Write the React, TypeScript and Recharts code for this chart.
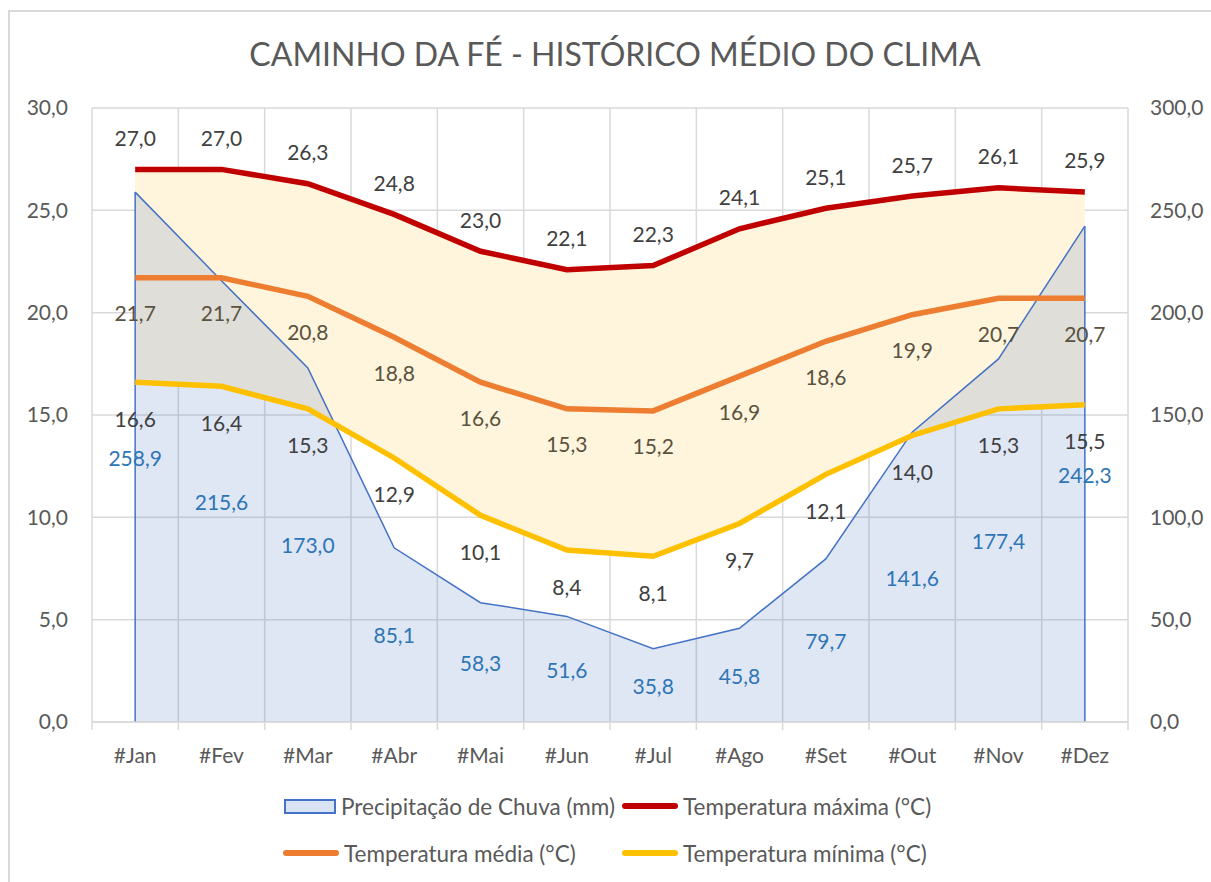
import React from 'react';
import {
  ComposedChart,
  Area,
  Line,
  XAxis,
  YAxis,
  CartesianGrid,
  ReferenceLine,
} from 'recharts';

const months = ['#Jan', '#Fev', '#Mar', '#Abr', '#Mai', '#Jun', '#Jul', '#Ago', '#Set', '#Out', '#Nov', '#Dez'];
const precipitation = [258.9, 215.6, 173.0, 85.1, 58.3, 51.6, 35.8, 45.8, 79.7, 141.6, 177.4, 242.3];
const tempMax = [27.0, 27.0, 26.3, 24.8, 23.0, 22.1, 22.3, 24.1, 25.1, 25.7, 26.1, 25.9];
const tempMed = [21.7, 21.7, 20.8, 18.8, 16.6, 15.3, 15.2, 16.9, 18.6, 19.9, 20.7, 20.7];
const tempMin = [16.6, 16.4, 15.3, 12.9, 10.1, 8.4, 8.1, 9.7, 12.1, 14.0, 15.3, 15.5];
const leftTicks = [0, 5, 10, 15, 20, 25, 30];
const rightTicks = [0, 50, 100, 150, 200, 250, 300];

const FONT = 'Lato, "Open Sans", sans-serif';
const CHART_W = 1203;
const CHART_H = 874;
const LEFT_W = 84;
const RIGHT_W = 83;
const TOP = 100;
const X_AXIS_H = 60;
const BOTTOM_M = 100;
const PLOT_W = CHART_W - LEFT_W - RIGHT_W;
const PLOT_BOTTOM = CHART_H - X_AXIS_H - BOTTOM_M;
const BAND = PLOT_W / months.length;

const data = months.map((m, i) => ({
  month: m,
  precip: precipitation[i],
  max: tempMax[i],
  med: tempMed[i],
  min: tempMin[i],
  band: [tempMin[i], tempMax[i]],
}));

const fmt = (v: number) => v.toFixed(1).replace('.', ',');

function makeLabel(dy: number, color: string) {
  return (props: any) => {
    const { x, y, value, index } = props;
    const v = Array.isArray(value) ? value[value.length - 1] : value;
    return (
      <text
        key={`l-${index}`}
        x={x}
        y={y + dy}
        textAnchor="middle"
        dominantBaseline="central"
        fill={color}
        fontSize={21}
        fontFamily={FONT}
      >
        {fmt(Number(v))}
      </text>
    );
  };
}

function PrecipLabel(props: any) {
  const { x, y, index } = props;
  return (
    <text
      key={`p-${index}`}
      x={x}
      y={(y + PLOT_BOTTOM) / 2}
      textAnchor="middle"
      dominantBaseline="central"
      fill="#2E75B6"
      fontSize={21}
      fontFamily={FONT}
    >
      {fmt(precipitation[index])}
    </text>
  );
}

function MonthTick(props: any) {
  const { x, y, payload, index } = props;
  const left = x - BAND / 2;
  return (
    <g>
      <line x1={left} x2={left} y1={PLOT_BOTTOM} y2={PLOT_BOTTOM + 8} stroke="#D9D9D9" strokeWidth={1.5} />
      {index === months.length - 1 && (
        <line x1={left + BAND} x2={left + BAND} y1={PLOT_BOTTOM} y2={PLOT_BOTTOM + 8} stroke="#D9D9D9" strokeWidth={1.5} />
      )}
      <text x={x} y={y + 24} textAnchor="middle" dominantBaseline="central" fill="#595959" fontSize={21} fontFamily={FONT}>
        {payload.value}
      </text>
    </g>
  );
}

const legendItems = [
  { kind: 'area', color: '#4472C4', label: 'Precipitação de Chuva (mm)', left: 276, top: 783 },
  { kind: 'line', color: '#C00000', label: 'Temperatura máxima (°C)', left: 614, top: 783 },
  { kind: 'line', color: '#ED7D31', label: 'Temperatura média (°C)', left: 275, top: 830 },
  { kind: 'line', color: '#FFC000', label: 'Temperatura mínima (°C)', left: 614, top: 830 },
];

function LegendItem({ kind, color, label, left, top }: any) {
  return (
    <div style={{ position: 'absolute', left, top, display: 'flex', alignItems: 'center', height: 30, fontSize: 22.5, color: '#595959', whiteSpace: 'nowrap' }}>
      {kind === 'area' ? (
        <div style={{ width: 52, height: 15, background: '#DAE3F3', border: '2px solid #4472C4', boxSizing: 'border-box', marginRight: 5 }} />
      ) : (
        <div style={{ width: 56, height: 6, background: color, borderRadius: 3, marginRight: 5 }} />
      )}
      <span>{label}</span>
    </div>
  );
}

export default function App() {
  return (
    <div style={{ position: 'relative', width: CHART_W, height: CHART_H, margin: '8px 0 0 8px', fontFamily: FONT, background: '#fff', overflow: 'hidden' }}>
      <style>{'html, body { margin: 0; overflow: hidden; }'}</style>
      <div style={{ position: 'absolute', left: 0, top: 2, right: 0, bottom: 0, borderTop: '2px solid #D9D9D9', borderLeft: '2px solid #D9D9D9' }} />
      <div style={{ position: 'absolute', left: 0, width: 1214, top: 26, textAlign: 'center', fontSize: 32, color: '#595959', whiteSpace: 'nowrap' }}>
        CAMINHO DA FÉ - HISTÓRICO MÉDIO DO CLIMA
      </div>
      <ComposedChart
        width={CHART_W}
        height={CHART_H}
        data={data}
        margin={{ top: TOP, right: 0, bottom: BOTTOM_M, left: 0 }}
        style={{ position: 'absolute', left: 0, top: 0 }}
      >
        <CartesianGrid
          stroke="#D9D9D9"
          strokeWidth={1.5}
          yAxisId="left"
          verticalCoordinatesGenerator={({ offset }: any) =>
            Array.from({ length: months.length + 1 }, (_, i) => offset.left + (i * offset.width) / months.length)
          }
        />
        <XAxis
          dataKey="month"
          scale="band"
          height={X_AXIS_H}
          axisLine={{ stroke: '#D9D9D9', strokeWidth: 1.5 }}
          tickLine={false}
          tick={<MonthTick />}
          interval={0}
        />
        <YAxis
          yAxisId="left"
          width={LEFT_W}
          domain={[0, 30]}
          ticks={leftTicks}
          axisLine={false}
          tickLine={false}
          tickSize={0}
          tickMargin={24}
          tickFormatter={fmt}
          tick={{ fill: '#595959', fontSize: 21, fontFamily: FONT }}
        />
        <YAxis
          yAxisId="right"
          orientation="right"
          width={RIGHT_W}
          domain={[0, 300]}
          ticks={rightTicks}
          axisLine={false}
          tickLine={false}
          tickSize={0}
          tickMargin={22}
          tickFormatter={fmt}
          tick={{ fill: '#595959', fontSize: 21, fontFamily: FONT }}
        />
        <Area
          yAxisId="left"
          dataKey="band"
          type="linear"
          stroke="none"
          fill="#FFF5DD"
          fillOpacity={1}
          isAnimationActive={false}
        />
        <Area
          yAxisId="right"
          dataKey="precip"
          type="linear"
          stroke="#4472C4"
          strokeWidth={1.5}
          fill="#4472C4"
          fillOpacity={0.17}
          label={PrecipLabel}
          isAnimationActive={false}
        />
        <ReferenceLine
          yAxisId="right"
          segment={[{ x: months[0], y: 0 }, { x: months[0], y: precipitation[0] }]}
          stroke="#4472C4"
          strokeWidth={1.5}
        />
        <ReferenceLine
          yAxisId="right"
          segment={[{ x: months[months.length - 1], y: 0 }, { x: months[months.length - 1], y: precipitation[precipitation.length - 1] }]}
          stroke="#4472C4"
          strokeWidth={1.5}
        />
        <Line
          yAxisId="left"
          dataKey="max"
          type="linear"
          stroke="#C00000"
          strokeWidth={5.5}
          dot={false}
          label={makeLabel(-32, '#404040')}
          isAnimationActive={false}
        />
        <Line
          yAxisId="left"
          dataKey="med"
          type="linear"
          stroke="#ED7D31"
          strokeWidth={5.5}
          dot={false}
          label={makeLabel(35, '#5A5240')}
          isAnimationActive={false}
        />
        <Line
          yAxisId="left"
          dataKey="min"
          type="linear"
          stroke="#FFC000"
          strokeWidth={5.5}
          dot={false}
          label={makeLabel(36, '#404040')}
          isAnimationActive={false}
        />
      </ComposedChart>
      {legendItems.map((it) => (
        <LegendItem key={it.label} {...it} />
      ))}
    </div>
  );
}
